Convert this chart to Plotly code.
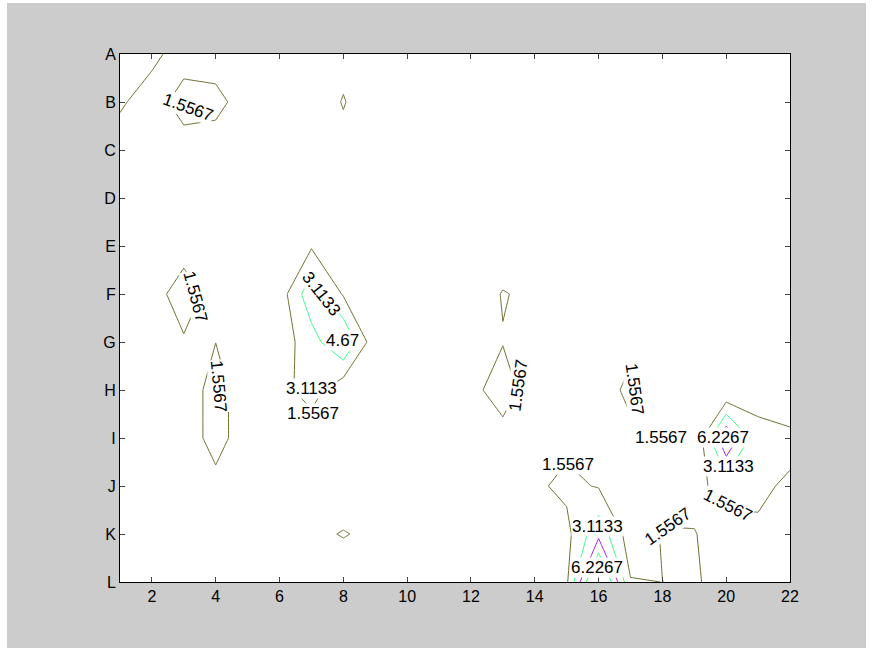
import plotly.graph_objects as go

# grid columns (x) and row labels (y, A at top)
x_values = list(range(1, 23))
row_labels = ["A", "B", "C", "D", "E", "F", "G", "H", "I", "J", "K", "L"]

# z values per row (x = 1..22)
row_A = [3.0, 2.4, 0, 0, 0, 0, 0, 0.8, 0, 0, 0, 0, 0, 0, 0, 0, 0, 0, 0, 0, 0, 0]
row_B = [2.0, 0, 3.0, 2.5, 0, 0, 0, 1.7, 0, 0, 0, 0, 0, 0, 0, 0, 0, 0, 0, 0, 0, 0]
row_C = [0, 0, 0, 0, 0, 0, 0, 0.8, 0, 0, 0, 0, 0, 0, 0, 0, 0, 0, 0, 0, 0, 0]
row_D = [0, 0, 0, 0, 0, 0, 0, 0, 0, 0, 0, 0, 0, 0, 0, 0, 0, 0, 0, 0, 0, 0]
row_E = [0, 0, 0.5, 0, 0, 0, 1.4, 0, 0, 0, 0, 0, 0, 0, 0, 0, 0, 0, 0, 0, 0, 0]
row_F = [0, 0.5, 2.8, 0.5, 0, 0.72, 4.2, 1.4, 0, 0, 0, 0, 1.7, 1.0, 0, 0, 0, 0, 0, 0, 0, 0]
row_G = [0, 0, 1.3, 1.54, 0, 0.75, 2.4, 4.75, 0.43, 0, 0, 0, 1.45, 0, 0, 0, 1.1, 0, 0, 0, 0, 0]
row_H = [0, 0, 0.3, 2.4, 0.3, 1.03, 2.2, 0.44, 0, 0, 0, 0.8, 2.8, 0, 0, 0.6, 2.02, 0, 0, 0, 1.0, 0]
row_I = [0, 0, 0.3, 2.4, 0.3, 0, 0.6, 0, 0, 0, 0, 0, 0.58, 0, 1.2, 0, 1.1, 0.3, 0, 6.2, 2.0, 2.02]
row_J = [0, 0, 0, 0.9, 0, 0, 0, 0, 0, 0, 0, 0, 0, 1.3, 1.9, 1.45, 0.5, 1.03, 1.05, 2.23, 1.83, 1.33]
row_K = [0, 0, 0, 0, 0, 0, 1.0, 1.7, 1.0, 0, 0, 0, 0, 0.3, 1.1, 4.2, 0.68, 1.65, 1.62, 0.88, 1.33, 0.5]
row_L = [0, 0, 0, 0, 0, 0, 0, 0, 0, 0, 0, 0, 0, 0.3, 1.29, 9.34, 1.65, 1.55, 1.9, 0.4, 0.5, 0.3]

z_rows = [row_A, row_B, row_C, row_D, row_E, row_F, row_G, row_H, row_I, row_J, row_K, row_L]

# contour levels (step = max / 6)
level_step = 9.34 / 6
level_colors = ["#6f6f30", "#3dff8a", "#a624f0", "#3dff8a"]

x_ticks = [2, 4, 6, 8, 10, 12, 14, 16, 18, 20, 22]

# inline contour labels (MATLAB clabel style): level index, position, angle
label_level = [1, 1, 1, 2, 3, 2, 1, 1, 1, 1, 4, 2, 1, 1, 2, 4, 1]
label_x = [3.13, 3.35, 4.1, 7.33, 7.96, 6.99, 7.05, 13.48, 17.14, 17.96, 19.9, 20.06, 20.06, 15.04, 15.98, 15.95, 18.18]
label_y = [2.12, 6.06, 7.92, 6.0, 6.96, 7.96, 8.48, 7.9, 7.98, 8.98, 8.98, 9.6, 10.4, 9.56, 10.85, 11.69, 10.85]
label_angle = [20, 75, 85, 52, 0, 0, 0, -82, 82, 0, 0, 0, 27, 0, 0, 0, -35]

fig = go.Figure()
fig.add_trace(go.Contour(
    x=x_values,
    y=list(range(1, len(row_labels) + 1)),
    z=z_rows,
    autocontour=False,
    contours=dict(
        start=level_step,
        end=4 * level_step + 0.003,
        size=level_step,
        coloring="lines",
        showlabels=False,
    ),
    colorscale=[[0, level_colors[0]], [1 / 3, level_colors[1]],
                [2 / 3, level_colors[2]], [1, level_colors[3]]],
    line=dict(width=1, smoothing=0),
    showscale=False,
    hoverinfo="skip",
))

label_font = dict(family="Liberation Sans, Arial, sans-serif", size=17, color="black")
annotations = []
for lv, lx, ly, la in zip(label_level, label_x, label_y, label_angle):
    annotations.append(dict(
        x=lx, y=ly, xref="x", yref="y",
        text=format(lv * level_step, ".5g"),
        showarrow=False, textangle=la, font=label_font,
        bgcolor="white", borderpad=0,
    ))

axis_font = dict(family="Liberation Sans, Arial, sans-serif", size=16, color="black")
fig.update_layout(
    width=859, height=645,
    paper_bgcolor="#cccccc",
    plot_bgcolor="white",
    margin=dict(l=113, r=76, t=51, b=66),
    showlegend=False,
    annotations=annotations,
    xaxis=dict(
        range=[1, 22], tickvals=x_ticks, ticks="inside", ticklen=5,
        showline=True, linecolor="black", linewidth=1, mirror="ticks",
        showgrid=False, zeroline=False, tickfont=axis_font,
    ),
    yaxis=dict(
        range=[12, 1], tickvals=list(range(1, 13)), ticktext=row_labels,
        ticks="inside", ticklen=5,
        showline=True, linecolor="black", linewidth=1, mirror="ticks",
        showgrid=False, zeroline=False, tickfont=axis_font,
    ),
)

fig.write_html("out.html", post_script="document.body.style.margin='3px 0 0 7px';")
